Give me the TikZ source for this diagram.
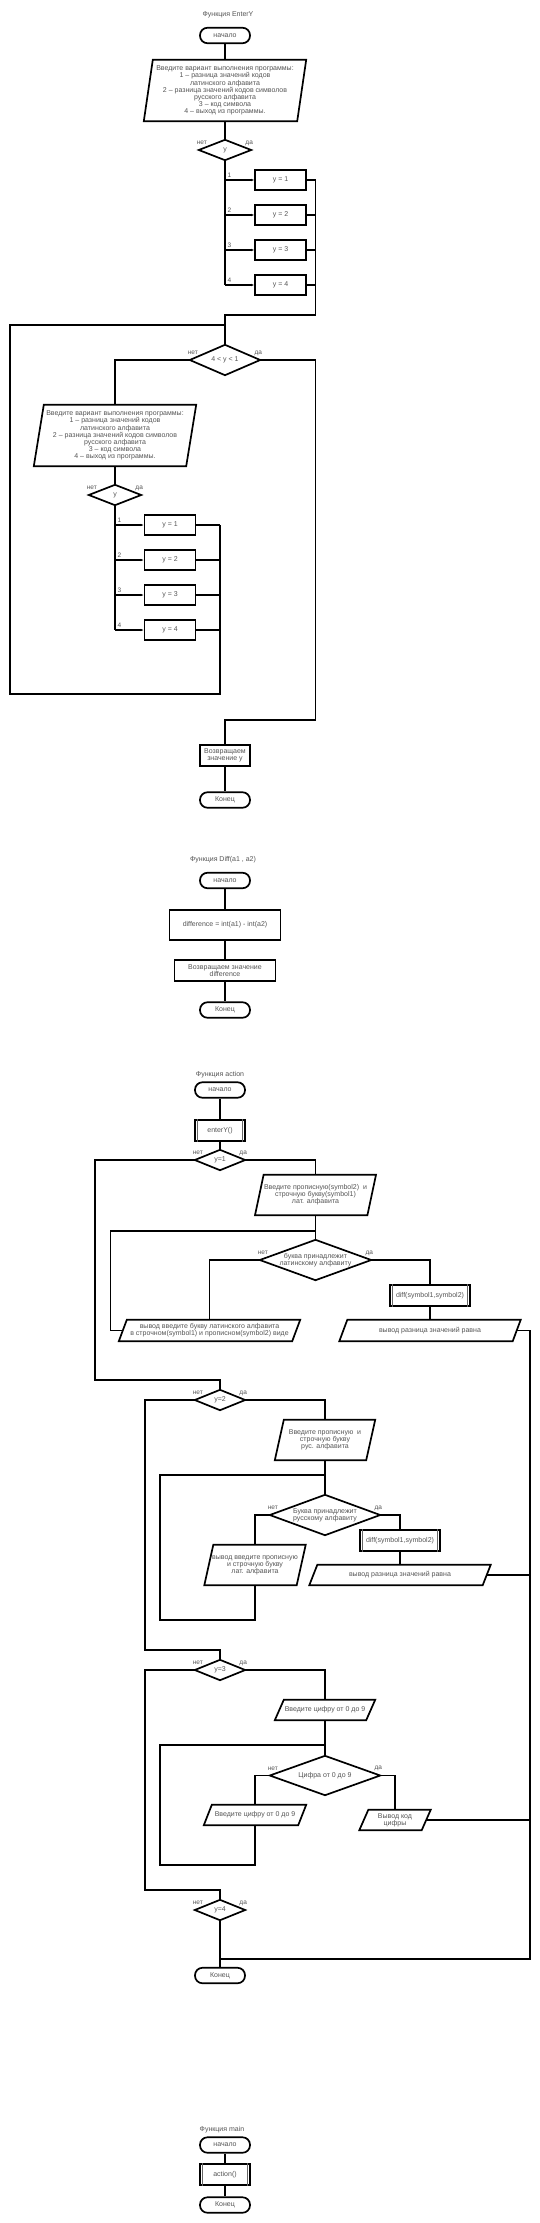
\documentclass[tikz,border=0pt]{standalone}
\usepackage{fontspec}
\setmainfont{Liberation Sans}
\usetikzlibrary{arrows.meta}
\definecolor{txt}{HTML}{555555}
\tikzset{
  every node/.style={font=\fontsize{7}{7.1}\selectfont, text=txt},
  base/.style={inner sep=0pt, align=center},
  sz/.style 2 args={minimum width=#1pt, minimum height=#2pt},
  term/.style={base, draw=black, line width=1.7pt, rounded corners=7.5pt, minimum width=50pt, minimum height=15.5pt},
  proc/.style={base, draw=black, line width=1.7pt},
  subr/.style={base, draw=black, line width=1.7pt},
  dia/.style={base},
  io/.style={base},
  shapeline/.style={draw=black, line width=1.7pt, line join=miter},
  conn/.style={draw=black, line width=1.1pt},
  arr/.style={-{Latex[length=3pt,width=2.6pt]}},
  ttl/.style={inner sep=0pt},
  lbl/.style={inner sep=0pt, font=\fontsize{6.5}{7}\selectfont},
}
\begin{document}
\begin{tikzpicture}[x=1pt,y=-1pt]
\useasboundingbox (0,0) rectangle (540,2223);
\fill[white] (0,0) rectangle (540,2223);

% ================= EnterY =================
\node[ttl] (t1) at (228,15) {Функция EnterY};
\node[term] (s1) at (225,35.5) {начало};
\node[io, sz={153}{61}] (p1) at (225,90.5) {Введите вариант выполнения программы:\\1 – разница значений кодов\\латинского алфавита\\2 – разница значений кодов символов\\русского алфавита\\3 – код символа\\4 – выход из программы.};
\node[dia, sz={52}{20}] (d1) at (225,150) {y};
\node[proc, sz={51}{20}] (b1) at (280.5,180) {y = 1};
\node[proc, sz={51}{20}] (b2) at (280.5,215) {y = 2};
\node[proc, sz={51}{20}] (b3) at (280.5,250) {y = 3};
\node[proc, sz={51}{20}] (b4) at (280.5,285) {y = 4};
\node[dia, sz={70}{30}] (d2) at (225,360) {4 < y < 1};
\node[io, sz={152}{61}] (p2) at (115,435.5) {Введите вариант выполнения программы:\\1 – разница значений кодов\\латинского алфавита\\2 – разница значений кодов символов\\русского алфавита\\3 – код символа\\4 – выход из программы.};
\node[dia, sz={52}{20}] (d3) at (115,495) {y};
\node[proc, sz={51}{20}] (c1) at (170,525) {y = 1};
\node[proc, sz={51}{20}] (c2) at (170,560) {y = 2};
\node[proc, sz={51}{20}] (c3) at (170,595) {y = 3};
\node[proc, sz={51}{20}] (c4) at (170,630) {y = 4};
\node[proc, sz={50}{21}] (r1) at (225,755.5) {Возвращаем\\значение y};
\node[term] (e1) at (225,800) {Конец};

\coordinate (m1) at (315.5,315);
\coordinate (j1) at (225,325);
\coordinate (L1) at (10,694);
\coordinate (R2) at (220,694);
\coordinate (m2) at (315.5,720);

\draw[conn] (s1.south) -- (p1.north);
\draw[conn] (p1.south) -- (d1.north);
\draw[conn] (d1.south) -- (d1.south |- b4.west);
\foreach \b/\t in {b1/1,b2/2,b3/3,b4/4}{
  \draw[conn,arr] (d1.south |- \b.west) -- (\b.west);
  \node[lbl, anchor=south west] at ([xshift=2.5pt,yshift=2pt]d1.south |- \b.west) {\t};
  \draw[conn] (\b.east) -- (\b.east -| m1);
}
\draw[conn] (b1.east -| m1) -- (m1) -- (m1 -| j1) -- (j1) -- (d2.north);
\draw[conn] (j1) -| (L1) -- (R2) -- (R2 |- c1.east);
\draw[conn] (d2.west) -| (p2.north);
\draw[conn] (d2.east) -| (m2) -| (r1.north);
\draw[conn] (p2.south) -- (d3.north);
\draw[conn] (d3.south) -- (d3.south |- c4.west);
\foreach \b/\t in {c1/1,c2/2,c3/3,c4/4}{
  \draw[conn,arr] (d3.south |- \b.west) -- (\b.west);
  \node[lbl, anchor=south west] at ([xshift=2.5pt,yshift=2pt]d3.south |- \b.west) {\t};
  \draw[conn] (\b.east) -- (\b.east -| R2);
}
\draw[conn] (r1.south) -- (e1.north);

% ================= Diff =================
\node[ttl] (t2) at (223,860) {Функция Diff(a1 , a2)};
\node[term] (s2) at (225,880.5) {начало};
\node[proc, sz={111}{30}] (bd) at (225,925) {difference = int(a1) - int(a2)};
\node[proc, sz={101}{21}] (r2) at (225,970.5) {Возвращаем значение\\difference};
\node[term] (e2) at (225,1010) {Конец};
\draw[conn] (s2.south) -- (bd.north);
\draw[conn] (bd.south) -- (r2.north);
\draw[conn] (r2.south) -- (e2.north);

% ================= action =================
\node[ttl] (t3) at (220,1075) {Функция action};
\node[term] (s3) at (220,1090) {начало};
\node[subr, sz={50}{21}] (sub1) at (220,1130.5) {enterY()};
\node[dia, sz={50}{20}] (dy1) at (220,1160) {y=1};
\node[io, sz={112}{40}] (pA) at (315.5,1195) {Введите прописную(symbol2)\ \ и\\строчную букву(symbol1)\\лат. алфавита};
\node[dia, sz={111}{40}] (dA) at (315.5,1260) {буква принадлежит\\латинскому алфавиту};
\node[io, sz={173}{21}] (oA) at (209.5,1330.5) {вывод введите букву латинского алфавита\\в строчном(symbol1) и прописном(symbol2) виде};
\node[subr, sz={80}{21}] (subA) at (430,1295.5) {diff(symbol1,symbol2)};
\node[io, sz={173}{21}] (oB) at (430,1330.5) {вывод разница значений равна};

\node[dia, sz={50}{20}] (dy2) at (220,1400) {y=2};
\node[io, sz={91}{40}] (pB) at (325,1440) {Введите прописную\ \ и\\строчную букву\\рус. алфавита};
\node[dia, sz={110}{40}] (dB) at (325,1515) {Буква принадлежит\\русскому алфавиту};
\node[io, sz={92}{40}] (oC) at (255,1565) {вывод введите прописную\\и строчную букву\\лат. алфавита};
\node[subr, sz={80}{21}] (subB) at (400,1540.5) {diff(symbol1,symbol2)};
\node[io, sz={173}{20}] (oD) at (400,1575) {вывод разница значений равна};

\node[dia, sz={50}{20}] (dy3) at (220,1670) {y=3};
\node[io, sz={91}{20}] (pC) at (325,1710) {Введите цифру от 0 до 9};
\node[dia, sz={110}{39}] (dC) at (325,1775.5) {Цифра от 0 до 9};
\node[io, sz={94}{20}] (oE) at (255,1815) {Введите цифру от 0 до 9};
\node[io, sz={62}{20}] (oF) at (395,1820) {Вывод код\\цифры};

\node[dia, sz={50}{20}] (dy4) at (220,1910) {y=4};
\node[term] (e3) at (220,1975.5) {Конец};

\coordinate (n1) at (95,1380);
\coordinate (jA) at (315.5,1231);
\coordinate (lA) at (110.5,1330.5);
\coordinate (R) at (530,1959);
\coordinate (n2) at (145,1650);
\coordinate (jB) at (325,1475);
\coordinate (lB) at (160,1620);
\coordinate (n3) at (145,1890);
\coordinate (jC) at (325,1745);
\coordinate (lC) at (160,1865);

\draw[conn] (s3.south) -- (sub1.north);
\draw[conn] (sub1.south) -- (dy1.north);
\draw[conn] (dy1.west) -| (n1) -| (dy2.north);
\draw[conn] (dy1.east) -| (pA.north);
\draw[conn] (pA.south) -- (dA.north);
\draw[conn] (jA) -| (lA) -- (oA.west);
\draw[conn] (dA.west) -| (oA.north);
\draw[conn] (dA.east) -| (subA.north);
\draw[conn] (subA.south) -- (oB.north);
\draw[conn] (oB.east) -| (R) -- (R -| e3.north);

\draw[conn] (dy2.west) -| (n2) -| (dy3.north);
\draw[conn] (dy2.east) -| (pB.north);
\draw[conn] (pB.south) -- (dB.north);
\draw[conn] (jB) -| (lB) -| (oC.south);
\draw[conn] (dB.west) -| (oC.north);
\draw[conn] (dB.east) -| (subB.north);
\draw[conn] (subB.south) -- (oD.north);
\draw[conn] (oD.east) -- (oD.east -| R);

\draw[conn] (dy3.west) -| (n3) -| (dy4.north);
\draw[conn] (dy3.east) -| (pC.north);
\draw[conn] (pC.south) -- (dC.north);
\draw[conn] (jC) -| (lC) -| (oE.south);
\draw[conn] (dC.west) -| (oE.north);
\draw[conn] (dC.east) -| (oF.north);
\draw[conn] (oF.east) -- (oF.east -| R);

\draw[conn] (dy4.south) -- (e3.north);

% ================= main =================
\node[ttl] (t4) at (222,2130) {Функция main};
\node[term] (s4) at (225,2145) {начало};
\node[subr, sz={50}{21}] (sub2) at (225,2174.5) {action()};
\node[term] (e4) at (225,2205) {Конец};
\draw[conn] (s4.south) -- (sub2.north);
\draw[conn] (sub2.south) -- (e4.north);

% ---- shapes drawn on anchors ----
\foreach \n in {d1,d2,d3,dy1,dA,dy2,dB,dy3,dC,dy4}{
  \draw[shapeline] (\n.north) -- (\n.east) -- (\n.south) -- (\n.west) -- cycle;
}
\foreach \n/\s in {p1/4.5,p2/5,pA/4.3,oA/4,oB/4,pB/4.5,oC/4.5,oD/4,pC/4.5,oE/4,oF/4.5}{
  \draw[shapeline] ([xshift=\s pt]\n.north west) -- ([xshift=\s pt]\n.north east) -- ([xshift=-\s pt]\n.south east) -- ([xshift=-\s pt]\n.south west) -- cycle;
}
\foreach \n in {sub1,subA,subB,sub2}{
  \draw[line width=0.9pt, draw=black!60] ([xshift=3pt]\n.north west) -- ([xshift=3pt]\n.south west);
  \draw[line width=0.9pt, draw=black!60] ([xshift=-3pt]\n.north east) -- ([xshift=-3pt]\n.south east);
}
% ---- branch labels ----
\foreach \n in {d1,d2,d3,dy1,dA,dy2,dB,dy3,dC,dy4}{
  \node[lbl] at ([xshift=3pt,yshift=7pt]\n.west) {нет};
  \node[lbl] at ([xshift=-2pt,yshift=7pt]\n.east) {да};
}
\end{tikzpicture}
\end{document}
